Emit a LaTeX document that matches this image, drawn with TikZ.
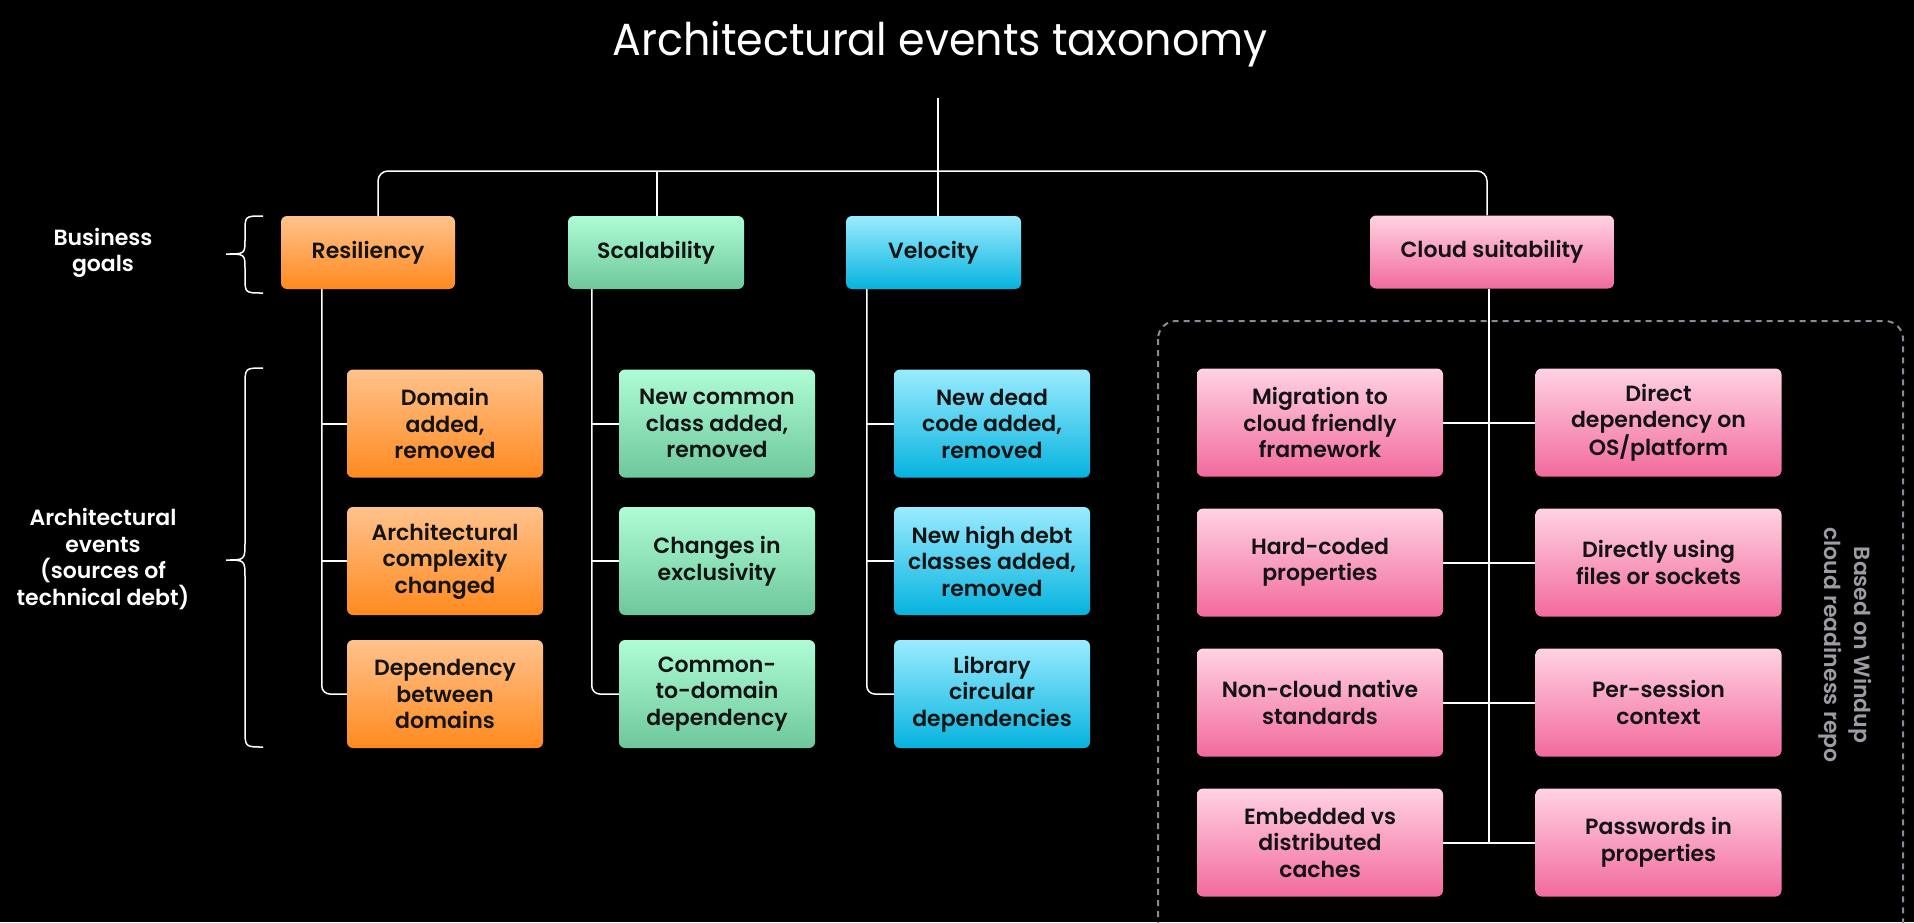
\documentclass[tikz,border=0pt]{standalone}
\usepackage{fontspec}
\setmainfont{Poppins}
\newfontfamily\medfont{Poppins SemiBold}
\newfontfamily\titlefont{Poppins}[FakeStretch=0.95]
\usetikzlibrary{calc}

\definecolor{ink}{HTML}{141414}
\definecolor{resT}{HTML}{FFC28C}
\definecolor{resB}{HTML}{FF8A1F}
\definecolor{scaT}{HTML}{AEFCD5}
\definecolor{scaB}{HTML}{6EC79B}
\definecolor{velT}{HTML}{9BEBFF}
\definecolor{velB}{HTML}{05B3DE}
\definecolor{cldT}{HTML}{FFD2E3}
\definecolor{cldB}{HTML}{F26A9D}
\definecolor{frame}{HTML}{8A8A94}
\definecolor{note}{HTML}{9C9CA4}

\tikzset{
  box/.style={rounded corners=6pt, inner sep=0pt, align=center,
    text=ink, font=\medfont\fontsize{22}{26.5}\selectfont},
  goal/.style={box, minimum height=73pt},
  event/.style={box, minimum width=196pt, minimum height=108pt},
  cevent/.style={box, minimum width=246pt, minimum height=108pt},
  resfill/.style={top color=resT, bottom color=resB},
  scafill/.style={top color=scaT, bottom color=scaB},
  velfill/.style={top color=velT, bottom color=velB},
  cldfill/.style={top color=cldT, bottom color=cldB},
  wire/.style={draw=white, line width=2pt},
  thinwire/.style={draw=white, line width=1.5pt},
  side/.style={align=center, text=white, font=\medfont\fontsize{22}{26.5}\selectfont},
}

\begin{document}
\begin{tikzpicture}[x=1pt, y=-1pt]
  % canvas
  \fill[black] (0,0) rectangle (1914,922);
  \useasboundingbox (0,0) rectangle (1914,922);

  % title
  \node[text=white, anchor=base, font=\titlefont\fontsize{45}{50}\selectfont] (title) at (940,55) {Architectural events taxonomy};

  % business goals
  \node[goal, resfill, minimum width=174pt] (res) at (368,252.5) {Resiliency};
  \node[goal, scafill, minimum width=176pt] (sca) at (656,252.5) {Scalability};
  \node[goal, velfill, minimum width=175pt] (vel) at (933.5,252.5) {Velocity};
  \node[goal, cldfill, minimum width=244pt] (cld) at (1492,252) {Cloud suitability};

  % resiliency events
  \node[event, resfill] (r1) at (445,423.5) {Domain\\added,\\removed};
  \node[event, resfill] (r2) at (445,561) {Architectural\\complexity\\changed};
  \node[event, resfill] (r3) at (445,694) {Dependency\\between\\domains};

  % scalability events
  \node[event, scafill] (s1) at (717,423.5) {New common\\class added,\\removed};
  \node[event, scafill] (s2) at (717,561) {Changes in\\exclusivity};
  \node[event, scafill] (s3) at (717,694) {Common-\\to-domain\\dependency};

  % velocity events
  \node[event, velfill] (v1) at (992,423.5) {New dead\\code added,\\removed};
  \node[event, velfill] (v2) at (992,561) {New high debt\\classes added,\\removed};
  \node[event, velfill] (v3) at (992,694) {Library\\circular\\dependencies};

  % cloud suitability events
  \node[cevent, cldfill] (c1) at (1320,422.5) {Migration to\\cloud friendly\\framework};
  \node[cevent, cldfill] (c2) at (1658.5,422.5) {Direct\\dependency on\\OS/platform};
  \node[cevent, cldfill] (c3) at (1320,562.5) {Hard-coded\\properties};
  \node[cevent, cldfill] (c4) at (1658.5,562.5) {Directly using\\files or sockets};
  \node[cevent, cldfill] (c5) at (1320,702.5) {Non-cloud native\\standards};
  \node[cevent, cldfill] (c6) at (1658.5,702.5) {Per-session\\context};
  \node[cevent, cldfill] (c7) at (1320,842.5) {Embedded vs\\distributed\\caches};
  \node[cevent, cldfill] (c8) at (1658.5,842.5) {Passwords in\\properties};

  % dashed frame around the cloud group
  \draw[frame, line width=2pt, dash pattern=on 6pt off 5pt, rounded corners=18pt]
    (1158,321) rectangle (1903,960);
  \node[text=note, rotate=-90, align=center, font=\medfont\fontsize{22}{30}\selectfont] (src) at (1845,645)
    {Based on Windup\\cloud readiness repo};

  % side labels and braces
  \node[side] (bg) at (103,253) {Business\\goals};
  \node[side] (ae) at (103,559) {Architectural\\events\\(sources of\\technical debt)};
  \draw[white, line width=1.5pt]
    (263,216) .. controls (245,216) .. (245,232) -- (245,239) .. controls (245,254) .. (226,254)
    .. controls (245,254) .. (245,269) -- (245,277) .. controls (245,293) .. (263,293);
  \draw[white, line width=1.5pt]
    (263,368) .. controls (245,368) .. (245,386) -- (245,542) .. controls (245,560) .. (226,560)
    .. controls (245,560) .. (245,578) -- (245,729) .. controls (245,747) .. (263,747);

  % top-level tree
  \coordinate (stem) at (938,98);
  \coordinate (bar) at (657,171);
  \draw[thinwire] (stem) -- (stem |- vel.north);
  \draw[thinwire, rounded corners=10pt] ([xshift=10pt]res.north) |- (bar) -| ([xshift=-5pt]cld.north);
  \draw[thinwire] (bar) -- (bar |- sca.north);

  % column trunks
  \draw[thinwire, rounded corners=8pt] ([xshift=-25pt]r1.west |- res.south) |- (r3.west);
  \draw[wire] ([xshift=-25pt]r1.west) -- (r1.west);
  \draw[wire] ([xshift=-25pt]r2.west) -- (r2.west);

  \draw[thinwire, rounded corners=8pt] ([xshift=-27pt]s1.west |- sca.south) |- (s3.west);
  \draw[wire] ([xshift=-27pt]s1.west) -- (s1.west);
  \draw[wire] ([xshift=-27pt]s2.west) -- (s2.west);

  \draw[thinwire, rounded corners=8pt] ([xshift=-27pt]v1.west |- vel.south) |- (v3.west);
  \draw[wire] ([xshift=-27pt]v1.west) -- (v1.west);
  \draw[wire] ([xshift=-27pt]v2.west) -- (v2.west);

  % cloud trunk and rows
  \draw[thinwire] ([xshift=-3pt]cld.south) -- ([xshift=-3pt]cld.south |- c7.east);
  \draw[wire] (c1.east) -- (c2.west);
  \draw[wire] (c3.east) -- (c4.west);
  \draw[wire] (c5.east) -- (c6.west);
  \draw[wire] (c7.east) -- (c8.west);
\end{tikzpicture}
\end{document}
